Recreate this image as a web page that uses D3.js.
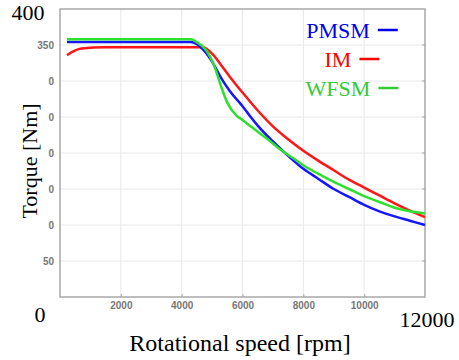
<!DOCTYPE html>
<html>
<head>
<meta charset="utf-8">
<script src="https://cdn.jsdelivr.net/npm/d3@7/dist/d3.min.js"></script>
<style>
  body { margin: 0; background: #fff; }
  svg { display: block; }
  .tick text { font-family: "Liberation Sans", Arial, sans-serif; font-size: 10px; fill: #777; font-weight: bold; }
  .big { font-family: "Liberation Serif", "Times New Roman", serif; fill: #000; }
</style>
</head>
<body>
<div id="chart"></div>
<script>
// speed [rpm] / torque [Nm]
var pmsmSpeed  = [230, 4300, 4500, 4700, 5000, 5300, 5600, 6000, 6250, 6500, 7000, 7500, 8000, 8500, 9000, 9500, 10000, 10500, 11000, 11500, 12000];
var pmsmTorque = [354, 354, 351, 344, 327, 304, 285, 265, 251, 238, 216, 196, 178, 164, 150, 139, 128, 119, 112, 106, 100];

var imSpeed  = [230, 700, 1500, 3000, 4700, 5000, 5300, 5600, 6000, 6500, 7000, 7500, 8000, 8500, 9000, 9500, 10000, 10500, 11000, 11500, 12000];
var imTorque = [336, 345, 347, 347, 347, 338, 322, 305, 284, 259, 237, 219, 203, 189, 176, 163, 152, 141, 130, 120, 111];

var wfsmSpeed  = [230, 4300, 4500, 4800, 5080, 5300, 5500, 5800, 6000, 6300, 6800, 7300, 7800, 8000, 8500, 9000, 9500, 10000, 10500, 11000, 11500, 12000];
var wfsmTorque = [358, 358, 354, 343, 320, 292, 270, 252, 246, 236, 220, 203, 189, 183, 171, 160, 150, 140, 132, 124, 119, 116];

var seriesNames  = ["PMSM", "IM", "WFSM"];
var seriesColors = ["#1515ff", "#ff1515", "#2ee02e"];
var legendColors = ["#0000f0", "#ff0000", "#33cc33"];

var yTickValues = [50, 100, 150, 200, 250, 300, 350];
var yTickLabels = ["50", "0", "0", "0", "0", "0", "350"];
var xTickValues = [2000, 4000, 6000, 8000, 10000];
var xGridValues = [2000, 4000, 6000, 8000, 10000];

var width = 459, height = 360;
var plot = { left: 60, right: 425, top: 9, bottom: 297 };

var svg = d3.select("#chart").append("svg")
    .attr("width", width)
    .attr("height", height);

var x = d3.scaleLinear().domain([0, 12000]).range([plot.left, plot.right]);
var y = d3.scaleLinear().domain([0, 400]).range([plot.bottom, plot.top]);

// grid
svg.append("g").selectAll("line").data(xGridValues).enter().append("line")
    .attr("x1", d => x(d)).attr("x2", d => x(d))
    .attr("y1", y(400)).attr("y2", y(0))
    .attr("stroke", "#e8e8e8").attr("stroke-width", 1);
svg.append("g").selectAll("line").data(yTickValues).enter().append("line")
    .attr("x1", x(0)).attr("x2", x(12000))
    .attr("y1", d => y(d)).attr("y2", d => y(d))
    .attr("stroke", "#e8e8e8").attr("stroke-width", 1);

// frame
svg.append("rect")
    .attr("x", x(0)).attr("y", y(400))
    .attr("width", x(12000) - x(0)).attr("height", y(0) - y(400))
    .attr("fill", "none").attr("stroke", "#a8a8a8").attr("stroke-width", 1.5);

// inner tick marks on the right edge
svg.append("g").selectAll("line").data(yTickValues).enter().append("line")
    .attr("x1", x(12000) - 3).attr("x2", x(12000))
    .attr("y1", d => y(d)).attr("y2", d => y(d))
    .attr("stroke", "#a8a8a8");

// axes
var yAxis = d3.axisLeft(y)
    .tickValues(yTickValues)
    .tickSize(0)
    .tickPadding(6)
    .tickFormat((d, i) => yTickLabels[i]);
var gy = svg.append("g").attr("transform", "translate(" + x(0) + ",0)").call(yAxis);
gy.select(".domain").remove();

var xAxis = d3.axisBottom(x)
    .tickValues(xTickValues)
    .tickSize(0)
    .tickPadding(5)
    .tickFormat(d3.format("d"));
var gx = svg.append("g").attr("transform", "translate(0," + y(0) + ")").call(xAxis);
gx.select(".domain").remove();
gx.selectAll(".tick").append("line")
    .attr("y1", -3).attr("y2", 0).attr("stroke", "#a8a8a8");

// curves
var allSeries = [
    { speed: pmsmSpeed, torque: pmsmTorque },
    { speed: imSpeed, torque: imTorque },
    { speed: wfsmSpeed, torque: wfsmTorque }
];
var line = d3.line()
    .x(d => x(d[0]))
    .y(d => y(d[1]))
    .curve(d3.curveMonotoneX);

var drawOrder = [1, 0, 2];
drawOrder.forEach(function (i) {
    var s = allSeries[i];
    var pts = s.speed.map((v, k) => [v, s.torque[k]]);
    svg.append("path")
        .datum(pts)
        .attr("d", line)
        .attr("fill", "none")
        .attr("stroke", seriesColors[i])
        .attr("stroke-width", 2.5)
        .attr("stroke-linejoin", "round");
});

// legend
var legendCenter = 352;
var legendRows = [30, 59, 88];
seriesNames.forEach(function (name, i) {
    var g = svg.append("g");
    var t = g.append("text")
        .attr("class", "big")
        .attr("font-size", 22)
        .attr("y", legendRows[i] + 8)
        .text(name);
    var tw = t.node().getComputedTextLength();
    var total = tw + 8 + 20;
    var x0 = legendCenter - total / 2;
    t.attr("x", x0).style("fill", legendColors[i]);
    g.append("line")
        .attr("x1", x0 + tw + 8).attr("x2", x0 + tw + 28)
        .attr("y1", legendRows[i]).attr("y2", legendRows[i])
        .attr("stroke", legendColors[i]).attr("stroke-width", 2.5);
});

// large labels
svg.append("text").attr("class", "big").attr("font-size", 22)
    .attr("x", 28).attr("y", 20).attr("text-anchor", "middle").text("400");
svg.append("text").attr("class", "big").attr("font-size", 22)
    .attr("x", 40).attr("y", 322).attr("text-anchor", "middle").text("0");
svg.append("text").attr("class", "big").attr("font-size", 22)
    .attr("x", 427).attr("y", 327).attr("text-anchor", "middle").text("12000");
svg.append("text").attr("class", "big").attr("font-size", 24)
    .attr("x", 240).attr("y", 351).attr("text-anchor", "middle").text("Rotational speed [rpm]");
svg.append("text").attr("class", "big").attr("font-size", 22)
    .attr("transform", "translate(37,161) rotate(-90)")
    .attr("text-anchor", "middle").text("Torque [Nm]");
</script>
</body>
</html>
